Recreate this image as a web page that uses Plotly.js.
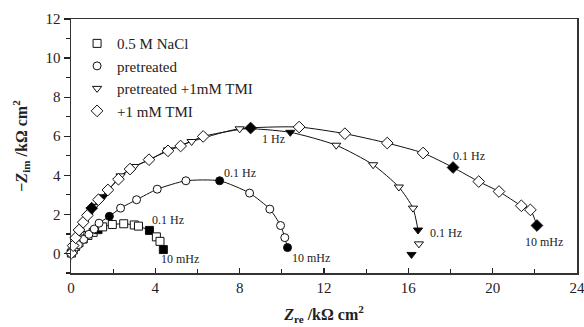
<!DOCTYPE html>
<html><head><meta charset="utf-8">
<script src="https://cdn.plot.ly/plotly-3.0.1.min.js"></script>
<style>html,body{margin:0;padding:0;background:#fff;}#chart{width:584px;height:327px;}</style>
</head><body><div id="chart"></div>
<script>
// Series names
var seriesNames = ["0.5 M NaCl", "pretreated", "pretreated +1mM TMI", "+1 mM TMI"];

// 0.5 M NaCl (squares)
var naclX = [0.02, 0.1, 0.22, 0.38, 0.58, 0.8, 1.05, 1.28, 1.5, 1.96, 2.5, 3.0, 3.2, 3.72, 4.05, 4.22, 4.38];
var naclY = [0.02, 0.18, 0.36, 0.55, 0.74, 0.92, 1.08, 1.22, 1.36, 1.48, 1.52, 1.46, 1.4, 1.18, 0.85, 0.62, 0.2];
var naclFreq = ["", "", "", "", "", "", "", "1 Hz", "", "", "", "", "", "0.1 Hz", "", "", "10 mHz"];

// pretreated (circles)
var pretX = [0.03, 0.15, 0.35, 0.6, 0.85, 1.1, 1.33, 1.82, 2.35, 3.11, 4.09, 5.45, 7.05, 8.47, 9.43, 9.94, 10.14, 10.27];
var pretY = [0.03, 0.22, 0.45, 0.72, 0.98, 1.25, 1.55, 1.9, 2.32, 2.75, 3.29, 3.72, 3.72, 3.09, 2.27, 1.43, 0.81, 0.3];
var pretFreq = ["", "", "", "", "", "", "", "1 Hz", "", "", "", "", "0.1 Hz", "", "", "", "", "10 mHz"];

// pretreated +1mM TMI (down triangles)
var ptmiX = [0.03, 0.12, 0.25, 0.42, 0.62, 0.85, 1.1, 1.53, 2.35, 3.0, 3.7, 4.6, 5.72, 8.0, 10.4, 12.58, 14.33, 15.55, 16.22, 16.46, 16.5, 16.15];
var ptmiY = [0.05, 0.35, 0.75, 1.15, 1.6, 2.0, 2.4, 2.9, 3.97, 4.45, 4.78, 5.3, 5.73, 6.38, 6.2, 5.54, 4.54, 3.4, 2.32, 1.2, 0.49, -0.05];
var ptmiFreq = ["", "", "", "", "", "", "", "10 Hz", "", "", "", "", "", "", "1 Hz", "", "", "", "", "0.1 Hz", "", "10 mHz"];

// +1 mM TMI (diamonds)
var tmiX = [0.02, 0.1, 0.22, 0.38, 0.58, 0.78, 0.98, 1.3, 1.75, 2.25, 2.8, 3.7, 4.6, 5.2, 6.27, 8.52, 10.82, 12.99, 15.0, 16.7, 18.12, 19.34, 20.3, 21.36, 21.79, 22.1];
var tmiY = [0.02, 0.4, 0.8, 1.2, 1.6, 1.95, 2.32, 2.75, 3.25, 3.8, 4.32, 4.8, 5.25, 5.5, 5.99, 6.42, 6.47, 6.13, 5.65, 5.14, 4.4, 3.68, 3.17, 2.44, 2.23, 1.43];
var tmiFreq = ["", "", "", "", "", "", "10 Hz", "", "", "", "", "", "", "", "", "1 Hz", "", "", "", "", "0.1 Hz", "", "", "", "", "10 mHz"];

// Frequency labels drawn on the chart
var labelText = ["0.1 Hz", "10 mHz", "0.1 Hz", "10 mHz", "1 Hz", "0.1 Hz", "0.1 Hz", "10 mHz"];
var labelX = [4.6, 5.17, 8.0, 11.4, 9.6, 17.8, 18.9, 22.45];
var labelY = [1.7, -0.28, 4.13, -0.23, 5.85, 1.05, 5.0, 0.59];

// Axis tick labels
var xTicks = [0, 4, 8, 12, 16, 20, 24];
var yTicks = [0, 2, 4, 6, 8, 10, 12];

var symbols = ["square", "circle", "triangle-down", "diamond"];
var allX = [naclX, pretX, ptmiX, tmiX];
var allY = [naclY, pretY, ptmiY, tmiY];
var allF = [naclFreq, pretFreq, ptmiFreq, tmiFreq];
// number of points the fitted line runs through (the last triangles lie off the fit)
var lineCount = [naclX.length, pretX.length, 20, tmiX.length];

var traces = [];
for (var s = 0; s < 4; s++) {
  traces.push({
    x: allX[s].slice(0, lineCount[s]), y: allY[s].slice(0, lineCount[s]),
    mode: 'lines', type: 'scatter', showlegend: false, hoverinfo: 'skip',
    line: {color: '#111', width: 1, shape: 'spline', smoothing: 0.6},
    cliponaxis: false
  });
}
for (var s = 0; s < 4; s++) {
  var cols = allF[s].map(function (f) { return f ? '#000' : '#fff'; });
  traces.push({
    x: allX[s], y: allY[s], mode: 'markers', type: 'scatter', showlegend: false,
    marker: {symbol: symbols[s], size: s === 3 ? 9 : 8, color: cols, line: {color: '#111', width: 1}},
    cliponaxis: false
  });
}
for (var s = 0; s < 4; s++) {
  traces.push({
    x: [null], y: [null], mode: 'markers', type: 'scatter', name: seriesNames[s],
    marker: {symbol: symbols[s], size: s === 3 ? 9 : 8, color: '#fff', line: {color: '#111', width: 1}}
  });
}

var annotations = labelText.map(function (t, i) {
  return {x: labelX[i], y: labelY[i], text: t, showarrow: false, xref: 'x', yref: 'y',
          font: {family: 'Liberation Serif', size: 12, color: '#222'}};
});

var layout = {
  width: 584, height: 327,
  margin: {l: 71, r: 7, t: 19, b: 54},
  paper_bgcolor: '#fff', plot_bgcolor: '#fff',
  font: {family: 'Liberation Serif', size: 14, color: '#222'},
  showlegend: true,
  legend: {x: 0.012, y: 0.968, xanchor: 'left', yanchor: 'top', bgcolor: 'rgba(0,0,0,0)',
           font: {family: 'Liberation Serif', size: 15, color: '#222'}},
  xaxis: {
    range: [0, 24], tickvals: xTicks, ticktext: xTicks.map(String), ticks: 'inside', ticklen: 5, tickwidth: 1.2,
    ticklabeloverflow: 'allow',
    tickcolor: '#222', showline: true, linecolor: '#333', linewidth: 1.5, mirror: true,
    showgrid: false, zeroline: false,
    minor: {dtick: 2, tick0: 0, ticks: 'inside', ticklen: 4, tickcolor: '#222', showgrid: false},
    tickfont: {family: 'Liberation Serif', size: 15, color: '#222'},
    title: {text: '<b><i>Z</i><sub>re</sub> /kΩ cm<sup>2</sup></b>', standoff: 14,
            font: {family: 'Liberation Serif', size: 16, color: '#222'}}
  },
  yaxis: {
    range: [-1, 12], tickvals: yTicks, ticks: 'outside', ticklen: 6, tickwidth: 1.2,
    tickcolor: '#222', showline: true, linecolor: '#333', linewidth: 1.5, mirror: true,
    showgrid: false, zeroline: false,
    minor: {dtick: 1, tick0: 0, ticks: 'outside', ticklen: 4, tickcolor: '#222', showgrid: false},
    tickfont: {family: 'Liberation Serif', size: 15, color: '#222'},
    title: {text: '<b>−<i>Z</i><sub>im</sub> /kΩ cm<sup>2</sup></b>', standoff: 14,
            font: {family: 'Liberation Serif', size: 16, color: '#222'}}
  },
  annotations: annotations
};

Plotly.newPlot('chart', traces, layout, {displayModeBar: false, staticPlot: true});
</script>
</body></html>
